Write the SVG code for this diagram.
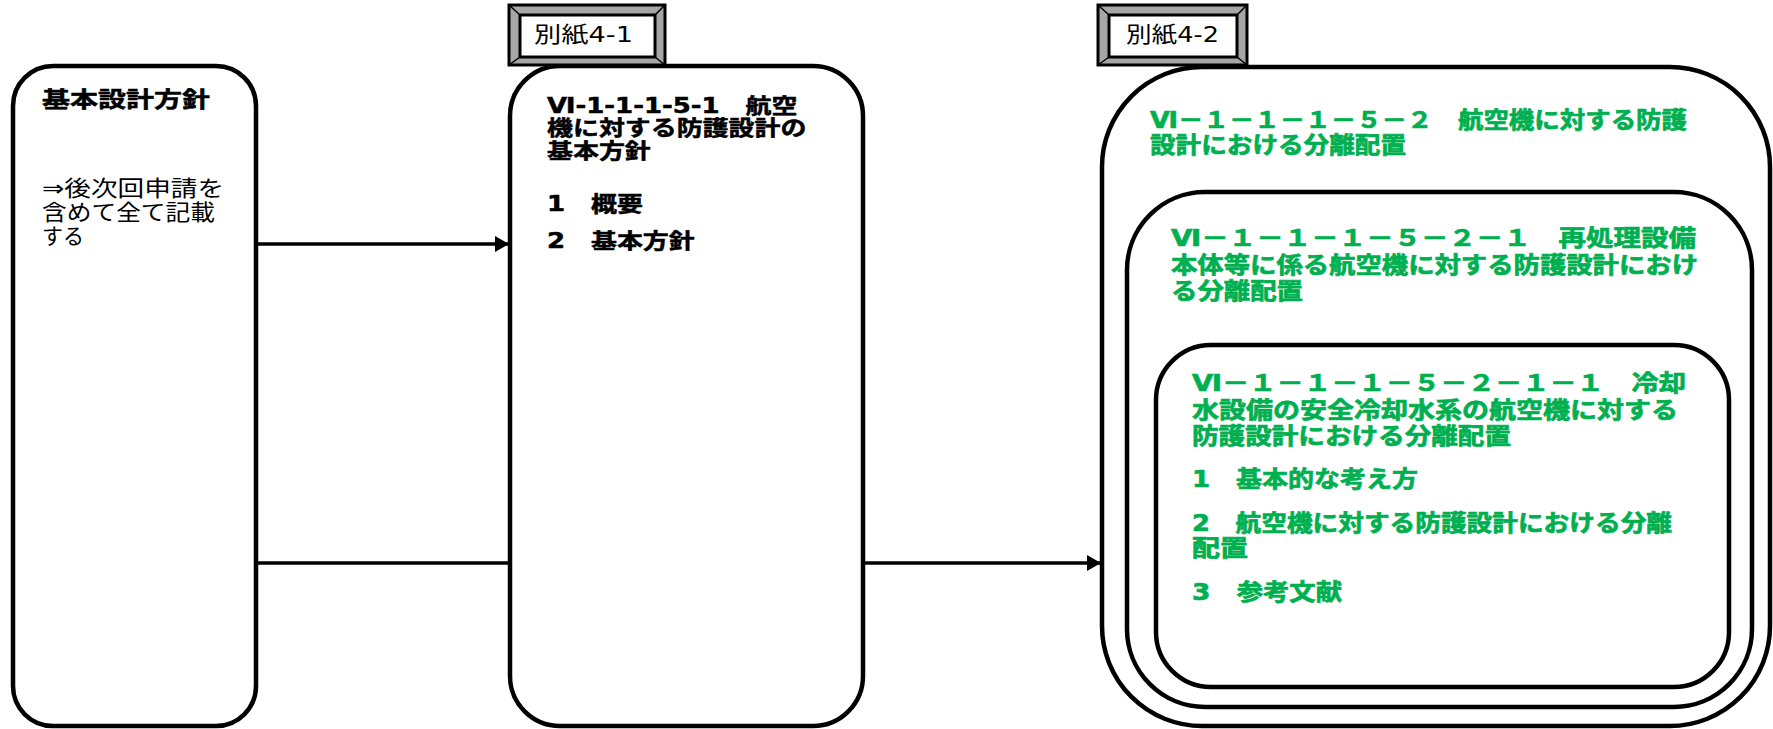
<svg xmlns="http://www.w3.org/2000/svg" width="1773" height="729" viewBox="0 0 1773 729">
<defs>
<marker id="arr" markerWidth="14" markerHeight="16" refX="14" refY="8" orient="auto" markerUnits="userSpaceOnUse">
<path d="M0,0 L14,8 L0,16 Z" fill="#000"/>
</marker>
</defs>
<style>
.box{fill:#fff;stroke:#000;stroke-width:4.5}
.con{stroke:#000;stroke-width:3.5;fill:none}
.t{font-family:"DejaVu Sans","Noto Sans CJK JP",sans-serif;font-size:22px}
.s21{font-size:21px}
.s23{font-size:23px}
.b{font-weight:bold}
.g{fill:#00B050;stroke:#00B050;stroke-width:0.7}
.k{fill:#000}
.kb{stroke:#000;stroke-width:0.5}
.bev{fill:#A6A6A6;stroke:#000;stroke-width:3}
.bevin{fill:#fff;stroke:#000;stroke-width:3}
.bevl{stroke:#000;stroke-width:1.5}
</style>
<rect width="1773" height="729" fill="#fff"/>

<g id="node-kihon">
<rect class="box" x="13" y="66" width="243" height="660" rx="40" ry="40"/>
<text class="t b k kb" x="42" y="107" textLength="168" lengthAdjust="spacingAndGlyphs">基本設計方針</text>
<text class="t k" x="42" y="196" textLength="182" lengthAdjust="spacingAndGlyphs">⇒後次回申請を</text>
<text class="t k" x="42" y="220" textLength="173" lengthAdjust="spacingAndGlyphs">含めて全て記載</text>
<text class="t k" x="42" y="244" textLength="42" lengthAdjust="spacingAndGlyphs">する</text>
</g>

<g id="node-4-1">
<rect class="box" x="510" y="66" width="353" height="660" rx="50" ry="50"/>
<g transform="translate(547,0) scale(1.236,1)">
<text class="t s21 b k kb" y="113">Ⅵ-1-1-1-5-1　航空</text>
<text class="t s21 b k kb" y="135">機に対する防護設計の</text>
<text class="t s21 b k kb" y="158">基本方針</text>
<text class="t s21 b k kb" y="211">1　概要</text>
<text class="t s21 b k kb" y="248">2　基本方針</text>
</g>
</g>

<g id="tag-4-1">
<rect class="bev" x="509" y="5" width="156" height="60"/>
<rect class="bevin" x="520" y="15" width="135" height="42"/>
<path class="bevl" d="M509,5 L520,15 M665,5 L655,15 M509,65 L520,57 M665,65 L655,57"/>
<text class="t k" x="534" y="42" textLength="99" lengthAdjust="spacingAndGlyphs">別紙4-1</text>
</g>

<g id="node-4-2">
<rect class="box" x="1102" y="67" width="668" height="659" rx="100" ry="100"/>
<text class="t s23 b g" x="1150" y="128" textLength="537" lengthAdjust="spacingAndGlyphs">Ⅵ－１－１－１－５－２　航空機に対する防護</text>
<text class="t s23 b g" x="1150" y="153" textLength="256" lengthAdjust="spacingAndGlyphs">設計における分離配置</text>
</g>

<g id="tag-4-2">
<rect class="bev" x="1098" y="5" width="149" height="60"/>
<rect class="bevin" x="1109" y="15" width="128" height="42"/>
<path class="bevl" d="M1098,5 L1109,15 M1247,5 L1237,15 M1098,65 L1109,57 M1247,65 L1237,57"/>
<text class="t k" x="1126" y="42" textLength="93" lengthAdjust="spacingAndGlyphs">別紙4-2</text>
</g>

<g id="node-4-2-1">
<rect class="box" x="1127" y="192" width="625" height="515" rx="78" ry="78"/>
<text class="t s23 b g" x="1171" y="246" textLength="525" lengthAdjust="spacingAndGlyphs">Ⅵ－１－１－１－５－２－１　再処理設備</text>
<text class="t s23 b g" x="1171" y="273" textLength="527" lengthAdjust="spacingAndGlyphs">本体等に係る航空機に対する防護設計におけ</text>
<text class="t s23 b g" x="1171" y="299" textLength="132" lengthAdjust="spacingAndGlyphs">る分離配置</text>
</g>

<g id="node-4-2-1-1">
<rect class="box" x="1156" y="345" width="573" height="342" rx="55" ry="55"/>
<text class="t s23 b g" x="1192" y="391" textLength="494" lengthAdjust="spacingAndGlyphs">Ⅵ－１－１－１－５－２－１－１　冷却</text>
<text class="t s23 b g" x="1192" y="418" textLength="486" lengthAdjust="spacingAndGlyphs">水設備の安全冷却水系の航空機に対する</text>
<text class="t s23 b g" x="1192" y="444" textLength="319" lengthAdjust="spacingAndGlyphs">防護設計における分離配置</text>
<text class="t s23 b g" x="1192" y="487" textLength="226" lengthAdjust="spacingAndGlyphs">1　基本的な考え方</text>
<text class="t s23 b g" x="1192" y="531" textLength="480" lengthAdjust="spacingAndGlyphs">2　航空機に対する防護設計における分離</text>
<text class="t s23 b g" x="1192" y="556" textLength="56" lengthAdjust="spacingAndGlyphs">配置</text>
<text class="t s23 b g" x="1192" y="600" textLength="150" lengthAdjust="spacingAndGlyphs">3　参考文献</text>
</g>

<g id="connectors">
<line class="con" x1="256" y1="244" x2="509" y2="244" marker-end="url(#arr)"/>
<line class="con" x1="256" y1="563" x2="510" y2="563"/>
<line class="con" x1="863" y1="563" x2="1101" y2="563" marker-end="url(#arr)"/>
</g>
</svg>
